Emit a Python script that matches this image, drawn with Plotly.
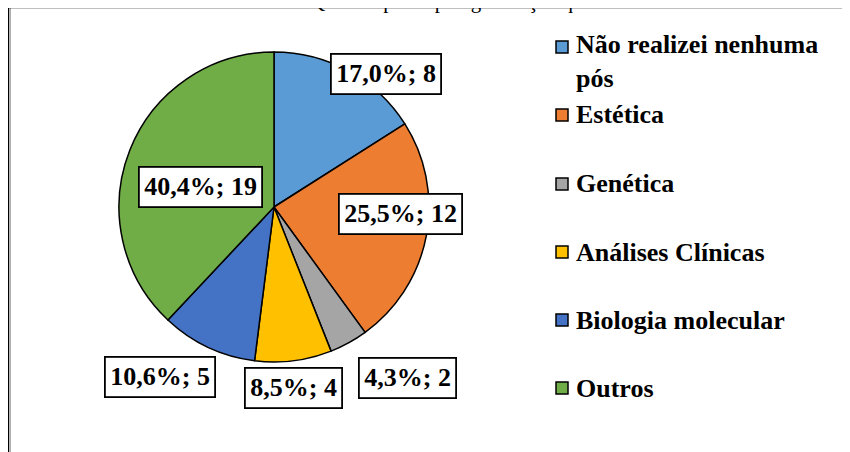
import plotly.graph_objects as go

# ---- data ----
categories = ["Não realizei nenhuma pós", "Estética", "Genética",
              "Análises Clínicas", "Biologia molecular", "Outros"]
counts = [8, 12, 2, 4, 5, 19]
percents = [17.0, 25.5, 4.3, 8.5, 10.6, 40.4]
colors = ["#5B9BD5", "#ED7D31", "#A5A5A5", "#FFC000", "#4472C4", "#70AD47"]
legend_labels = ["Não realizei nenhuma<br>pós", "Estética", "Genética",
                 "Análises Clínicas", "Biologia molecular", "Outros"]
title_text = "Gráfico 7 – Qual o tipo de pós-graduação que realizou?"

# page has an 8px body margin: figure origin sits at screen (8, 8)
OFF = 8
W, H = 842, 444
FONT = "Liberation Serif, Times New Roman, serif"

def px(x):
    return (x - OFF) / W

def py(y):
    return 1 - (y - OFF) / H

# label box centres (screen pixels) and legend row centres (screen pixels)
label_pos = [(386, 74), (400, 214), (407, 378), (293, 388), (160, 377), (200, 187)]
legend_rows = [62, 115, 184, 252, 320, 388]
legend_marker_rows = [47, 115, 184, 252, 320, 388]

fig = go.Figure()
fig.add_trace(go.Pie(
    labels=categories,
    values=counts,
    sort=False,
    direction="clockwise",
    rotation=0,
    marker=dict(colors=colors, line=dict(color="black", width=1.5)),
    textinfo="none",
    hoverinfo="label+value+percent",
    showlegend=False,
    domain=dict(x=[px(274 - 155), px(274 + 155)], y=[py(362), py(52)]),
))

annotations = []
for (cx, cy), p, c in zip(label_pos, percents, counts):
    txt = f"{p:.1f}%; {c}".replace(".", ",")
    annotations.append(dict(
        x=px(cx), y=py(cy), xref="paper", yref="paper",
        xanchor="center", yanchor="middle", showarrow=False,
        text=f"<b>{txt}</b>",
        font=dict(family=FONT, size=26, color="black"),
        bgcolor="white", bordercolor="black", borderwidth=1.8, borderpad=4.5,
    ))

shapes = []
for lab, ty, my, col in zip(legend_labels, legend_rows, legend_marker_rows, colors):
    annotations.append(dict(
        x=px(574), y=py(ty), xref="paper", yref="paper",
        xanchor="left", yanchor="middle", align="left", showarrow=False,
        text=f"<b>{lab}</b>",
        font=dict(family=FONT, size=26, color="black"),
    ))
    shapes.append(dict(
        type="rect", xref="paper", yref="paper",
        x0=px(556), x1=px(568), y0=py(my + 6), y1=py(my - 6),
        fillcolor=col, line=dict(color="black", width=1.5),
    ))

# clipped title at the very top
annotations.append(dict(
    x=px(442), y=py(1), xref="paper", yref="paper",
    xanchor="center", yanchor="middle", showarrow=False,
    text=title_text, font=dict(family=FONT, size=21, color="black"),
))

# chart frame (left and top edges)
shapes.append(dict(type="line", xref="paper", yref="paper",
                   x0=px(8.5), x1=px(8.5), y0=-0.05, y1=py(7),
                   line=dict(color="black", width=1.5)))
shapes.append(dict(type="line", xref="paper", yref="paper",
                   x0=px(10.3), x1=px(10.3), y0=-0.05, y1=py(8),
                   line=dict(color="#9a9a9a", width=1)))
shapes.append(dict(type="line", xref="paper", yref="paper",
                   x0=px(8), x1=1.05, y0=py(7.5), y1=py(7.5),
                   line=dict(color="black", width=1.5)))

fig.update_layout(
    width=W, height=H,
    margin=dict(l=0, r=0, t=0, b=0),
    paper_bgcolor="white", plot_bgcolor="white",
    annotations=annotations, shapes=shapes,
    showlegend=False,
)

fig.write_html("out.html")
